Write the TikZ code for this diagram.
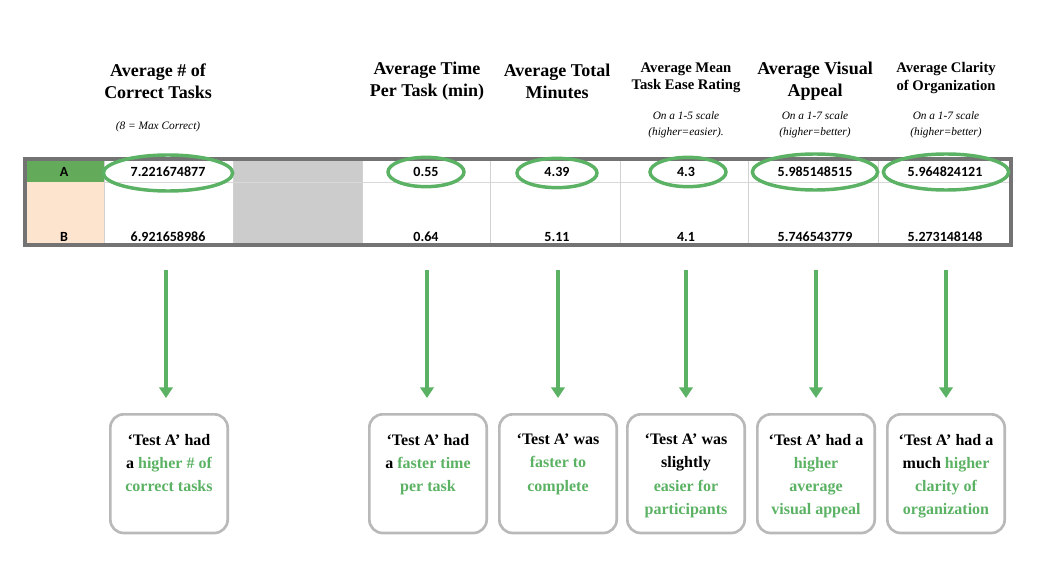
\documentclass[tikz,border=0pt]{standalone}
\usepackage{fontspec}
\setmainfont{Liberation Serif}
\newfontfamily\numfont{Carlito}
\begin{document}
\begin{tikzpicture}[x=0.75pt,y=-0.75pt,
  hdr/.style={font=\bfseries\fontsize{13.5}{16.5}\selectfont,align=center},
  hdrs/.style={font=\bfseries\fontsize{11}{13}\selectfont,align=center},
  sub/.style={font=\itshape\fontsize{8.5}{12}\selectfont,align=center},
  val/.style={font=\numfont\bfseries\fontsize{10.5}{12}\selectfont},
  ring/.style={draw=gr,line width=2.6pt,ellipse,inner sep=0pt},
  arr/.style={draw=gr,line width=2.6pt,-{Triangle[length=8pt,width=10pt]}},
  box/.style={draw=gray!55,line width=2pt,rounded corners=10pt,minimum width=88pt,minimum height=89pt,anchor=north,inner sep=0pt},
  btxt/.style={anchor=north,align=center,font=\bfseries\fontsize{12}{17.3}\selectfont,inner sep=0pt}]
\usetikzlibrary{arrows.meta,shapes.geometric}
\definecolor{gr}{RGB}{92,178,100}
\definecolor{peach}{RGB}{252,228,206}
\definecolor{agreen}{RGB}{99,170,90}
\path[use as bounding box] (0,0) rectangle (1048,577);
% table
\fill[agreen] (25,160) rectangle (104,182);
\fill[peach] (25,182) rectangle (104,244);
\fill[gray!40] (233,160) rectangle (362,244);
\draw[gray!30] (104,182) -- (1010,182);
\foreach \x in {104,233,362,490,620,748,878} \draw[gray!35] (\x,160) -- (\x,244);
\draw[gray!90!black,line width=3pt] (25,159) rectangle (1011,245);
\node[val] (la) at (64,172) {A};
\node[val] (lb) at (64,237) {B};
\foreach \n/\x/\a/\b in {c1/168/7.221674877/6.921658986,c2/426/0.55/0.64,c3/557/4.39/5.11,c4/686/4.3/4.1,c5/815/5.985148515/5.746543779,c6/945/5.964824121/5.273148148}{
  \node[val] (\n a) at (\x,172) {\a};
  \node[val] (\n b) at (\x,237) {\b};}
\node[ring,minimum width=97pt,minimum height=27pt] (r1) at (168,173) {};
\node[ring,minimum width=57pt,minimum height=22pt] (r2) at (426,172) {};
\node[ring,minimum width=60pt,minimum height=22pt] (r3) at (557,173) {};
\node[ring,minimum width=57pt,minimum height=22pt] (r4) at (688,172) {};
\node[ring,minimum width=94pt,minimum height=27pt] (r5) at (815,172) {};
\node[ring,minimum width=94pt,minimum height=27pt] (r6) at (946,172) {};
% headers
\node[hdr] (h1) at (158,81) {Average \# of\\Correct Tasks};
\node[sub] (s1) at (158,127) {(8 = Max Correct)};
\node[hdr] (h2) at (427,81) {Average Time\\Per Task (min)};
\node[hdr] (h3) at (557,81) {Average Total\\Minutes};
\node[hdrs] (h4) at (686,78) {Average Mean\\Task Ease Rating};
\node[sub] (s4) at (686,125) {On a 1-5 scale\\(higher=easier).};
\node[hdr] (h5) at (815,81) {Average Visual\\Appeal};
\node[sub] (s5) at (815,125) {On a 1-7 scale\\(higher=better)};
\node[hdrs] (h6) at (946,78) {Average Clarity\\of Organization};
\node[sub] (s6) at (946,125) {On a 1-7 scale\\(higher=better)};
% boxes
\foreach \b/\x/\t in {b1/169/{`Test A' had\\a \textcolor{gr}{higher \# of}\\\textcolor{gr}{correct tasks}},
  b2/428/{`Test A' had\\a \textcolor{gr}{faster time}\\\textcolor{gr}{per task}},
  b3/558/{`Test A' was\\\textcolor{gr}{faster to}\\\textcolor{gr}{complete}},
  b4/686/{`Test A' was\\slightly\\\textcolor{gr}{easier for}\\\textcolor{gr}{participants}},
  b5/816/{`Test A' had a\\\textcolor{gr}{higher}\\\textcolor{gr}{average}\\\textcolor{gr}{visual appeal}},
  b6/946/{`Test A' had a\\much \textcolor{gr}{higher}\\\textcolor{gr}{clarity of}\\\textcolor{gr}{organization}}}{
  \node[box] (\b) at (\x,413) {};
  \node[btxt] (\b t) at (\x,434) {\t};}
\foreach \x/\b in {166/b1,427/b2,558/b3,686/b4,816/b5,946/b6}{
  \coordinate (t\b) at (\x,270);
  \coordinate (e\b) at (\x,398);
  \draw[arr] (t\b) -- (e\b);}
\end{tikzpicture}
\end{document}
